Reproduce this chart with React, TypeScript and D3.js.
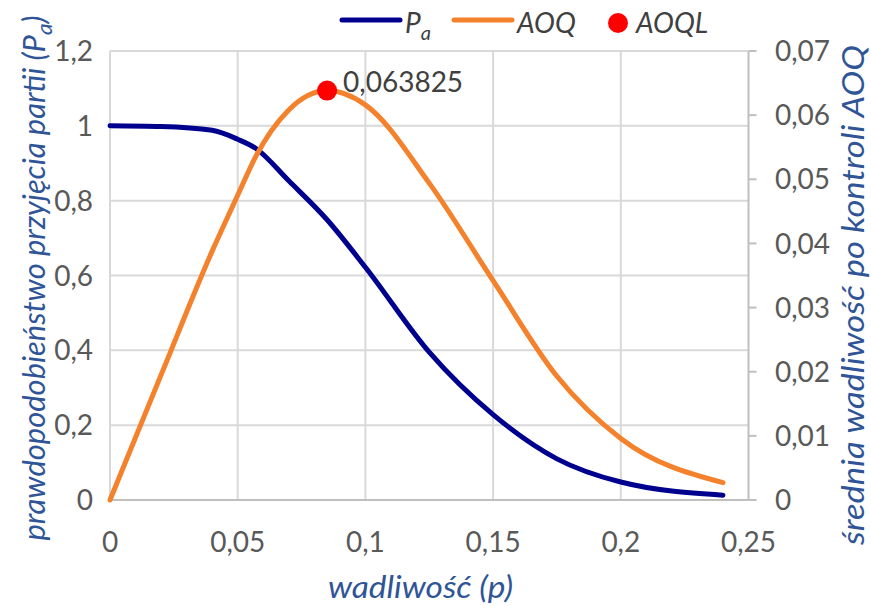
import React from "react";
import * as d3 from "d3";

// ---- data ----
const defectRate = [0, 0.02, 0.04, 0.05, 0.057, 0.07, 0.085, 0.1, 0.125, 0.15, 0.175, 0.2, 0.24];
const paValues = [1, 0.998, 0.988, 0.964, 0.94, 0.853, 0.749, 0.622, 0.395, 0.228, 0.11, 0.048, 0.013];
const aoqValues = [0, 0.0195, 0.0388, 0.0475, 0.0535, 0.0608, 0.063825, 0.0616, 0.0494, 0.0342, 0.0193, 0.0096, 0.0027];
const aoqlPoint = { p: 0.085, value: 0.063825, label: "0,063825" };

const xTicks = [0, 0.05, 0.1, 0.15, 0.2, 0.25];
const xTickLabels = ["0", "0,05", "0,1", "0,15", "0,2", "0,25"];
const yLeftTicks = [0, 0.2, 0.4, 0.6, 0.8, 1, 1.2];
const yLeftTickLabels = ["0", "0,2", "0,4", "0,6", "0,8", "1", "1,2"];
const yRightTicks = [0, 0.01, 0.02, 0.03, 0.04, 0.05, 0.06, 0.07];
const yRightTickLabels = ["0", "0,01", "0,02", "0,03", "0,04", "0,05", "0,06", "0,07"];

const W = 871;
const H = 606;
const FONT = "Lato, 'Open Sans', sans-serif";
const NAVY = "#00008E";
const ORANGE = "#F4812C";
const TITLE = "#2F5597";
const LABEL = "#595959";
const GRID = "#D9D9D9";
const AXIS = "#BFBFBF";

export default function App() {
  const x = d3.scaleLinear().domain([0, 0.25]).range([110, 748.5]);
  const yL = d3.scaleLinear().domain([0, 1.2]).range([500, 51]);
  const yR = d3.scaleLinear().domain([0, 0.07]).range([500, 51]);

  const paLine = d3
    .line<number>()
    .x((_, i) => x(defectRate[i]))
    .y((d) => yL(d))
    .curve(d3.curveMonotoneX);
  const aoqLine = d3
    .line<number>()
    .x((_, i) => x(defectRate[i]))
    .y((d) => yR(d))
    .curve(d3.curveMonotoneX);

  const [x0, x1] = x.range();
  const [yb, yt] = yL.range();

  return (
    <svg
      width={W}
      height={H}
      style={{ position: "absolute", left: 0, top: 0, background: "#fff" }}
      fontFamily={FONT}
    >
      <rect width={W} height={H} fill="#fff" />
      {yLeftTicks.slice(1).map((t) => (
        <line key={"h" + t} x1={x0} x2={x1} y1={yL(t)} y2={yL(t)} stroke={GRID} strokeWidth={2} />
      ))}
      {xTicks.slice(0, -1).map((t) => (
        <line key={"v" + t} x1={x(t)} x2={x(t)} y1={yt} y2={yb} stroke={GRID} strokeWidth={2} />
      ))}
      <line x1={x0} x2={x1} y1={yb} y2={yb} stroke={AXIS} strokeWidth={2} />
      <line x1={x1} x2={x1} y1={yt} y2={yb} stroke={AXIS} strokeWidth={2} />
      {yRightTicks.map((t) => (
        <line key={"rt" + t} x1={x1} x2={x1 + 8} y1={yR(t)} y2={yR(t)} stroke={AXIS} strokeWidth={2} />
      ))}

      {yLeftTicks.map((t, i) => (
        <text key={"yl" + t} x={93} y={yL(t)} dy="0.36em" textAnchor="end" fontSize={28} fill={LABEL}>
          {yLeftTickLabels[i]}
        </text>
      ))}
      {yRightTicks.map((t, i) => (
        <text key={"yr" + t} x={775} y={yR(t)} dy="0.36em" textAnchor="start" fontSize={28} fill={LABEL}>
          {yRightTickLabels[i]}
        </text>
      ))}
      {xTicks.map((t, i) => (
        <text key={"xt" + t} x={x(t)} y={552} textAnchor="middle" fontSize={28} fill={LABEL}>
          {xTickLabels[i]}
        </text>
      ))}

      <path d={paLine(paValues) || ""} fill="none" stroke={NAVY} strokeWidth={5} strokeLinecap="round" strokeLinejoin="round" />
      <path d={aoqLine(aoqValues) || ""} fill="none" stroke={ORANGE} strokeWidth={5} strokeLinecap="round" strokeLinejoin="round" />

      <circle cx={x(aoqlPoint.p)} cy={yR(aoqlPoint.value)} r={10} fill="#FF0000" />
      <text x={x(aoqlPoint.p) + 16} y={92} fontSize={28} fill="#404040">
        {aoqlPoint.label}
      </text>

      <text x={420.5} y={598} textAnchor="middle" fontSize={30} fontStyle="italic" fill={TITLE}
        textLength={185} lengthAdjust="spacingAndGlyphs">
        wadliwość (p)
      </text>
      <text transform="translate(45,278) rotate(-90)" textAnchor="middle" fontSize={30} fontStyle="italic" fill={TITLE}
        textLength={525} lengthAdjust="spacingAndGlyphs">
        prawdopodobieństwo przyjęcia partii (P
        <tspan fontSize={22} dy={7}>a</tspan>
        <tspan dy={-7}>)</tspan>
      </text>
      <text transform="translate(864,295) rotate(-90)" textAnchor="middle" fontSize={30} fontStyle="italic" fill={TITLE}
        textLength={500} lengthAdjust="spacingAndGlyphs">
        średnia wadliwość po kontroli AOQ
      </text>

      <line x1={342} x2={400} y1={20} y2={20} stroke={NAVY} strokeWidth={5} strokeLinecap="round" />
      <text x={405} y={33} fontSize={28} fontStyle="italic" fill="#404040">
        P<tspan fontSize={20} dy={7}>a</tspan>
      </text>
      <line x1={454} x2={512} y1={20} y2={20} stroke={ORANGE} strokeWidth={5} strokeLinecap="round" />
      <text x={517} y={33} fontSize={28} fontStyle="italic" fill="#404040">
        AOQ
      </text>
      <circle cx={618} cy={23} r={10} fill="#FF0000" />
      <text x={636} y={33} fontSize={28} fontStyle="italic" fill="#404040">
        AOQL
      </text>
    </svg>
  );
}
